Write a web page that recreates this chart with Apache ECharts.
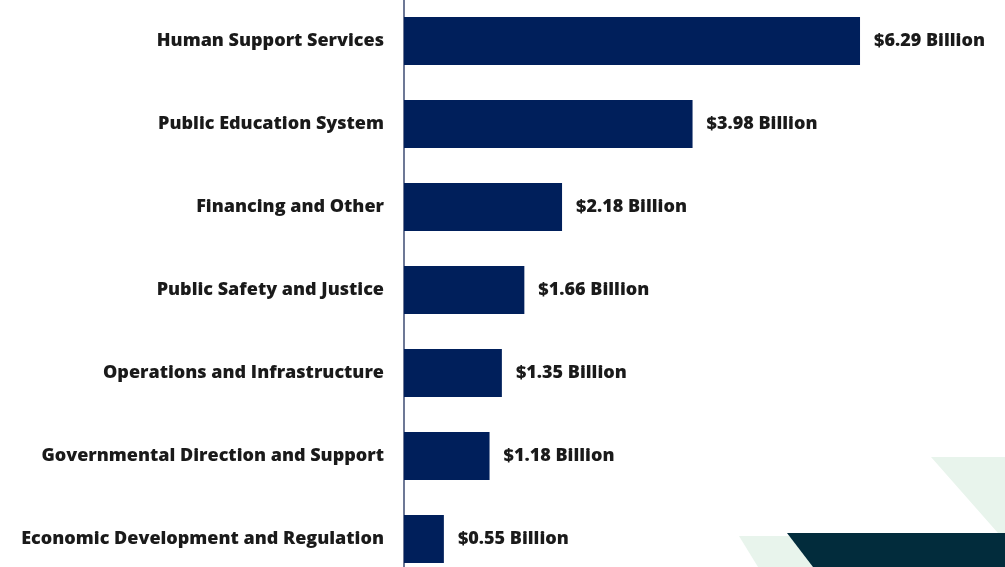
<!DOCTYPE html>
<html>
<head>
<meta charset="utf-8">
<script src="https://cdn.jsdelivr.net/npm/echarts@6/dist/echarts.min.js"></script>
<style>html,body{margin:0;padding:0;background:#fff;}#c{width:1005px;height:567px;}</style>
</head>
<body>
<div id="c"></div>
<script>
const categories = [
  "Human Support Services",
  "Public Education System",
  "Financing and Other",
  "Public Safety and Justice",
  "Operations and Infrastructure",
  "Governmental Direction and Support",
  "Economic Development and Regulation"
];
const values = [6.29, 3.98, 2.18, 1.66, 1.35, 1.18, 0.55];
const valueLabels = ["$6.29 Billion","$3.98 Billion","$2.18 Billion","$1.66 Billion","$1.35 Billion","$1.18 Billion","$0.55 Billion"];

const chart = echarts.init(document.getElementById('c'));
chart.setOption({
  animation: false,
  backgroundColor: '#ffffff',
  grid: { left: 404, top: -0.5, right: 21, bottom: -13.5, containLabel: false, outerBoundsMode: 'none' },
  xAxis: { type: 'value', min: 0, max: 8, show: false },
  yAxis: {
    type: 'category',
    data: categories,
    inverse: true,
    axisLine: { show: true, lineStyle: { color: '#3d4b73', width: 1.5 } },
    axisTick: { show: false },
    axisLabel: {
      margin: 20,
      color: '#1a1a1a',
      fontFamily: 'Open Sans',
      fontWeight: 800,
      fontSize: 18,
      padding: [4, 0, 0, 0]
    }
  },
  graphic: [
    { type: 'polygon', z: -1, shape: { points: [[931,457],[1005,457],[1005,567],[1028,567]] }, style: { fill: '#e8f4ec' } },
    { type: 'polygon', z: -1, shape: { points: [[739,536],[800,536],[820,567],[758,567]] }, style: { fill: '#e8f4ec' } },
    { type: 'polygon', z: 0, shape: { points: [[787,533],[1005,533],[1005,567],[813,567]] }, style: { fill: '#022c3c' } }
  ],
  series: [{
    type: 'bar',
    data: values,
    barWidth: 48,
    itemStyle: { color: '#001f5b' },
    label: {
      show: true,
      position: 'right',
      distance: 14,
      color: '#1a1a1a',
      fontFamily: 'Open Sans',
      fontWeight: 800,
      fontSize: 18,
      padding: [4, 0, 0, 0],
      formatter: p => valueLabels[p.dataIndex]
    }
  }]
});
</script>
</body>
</html>
